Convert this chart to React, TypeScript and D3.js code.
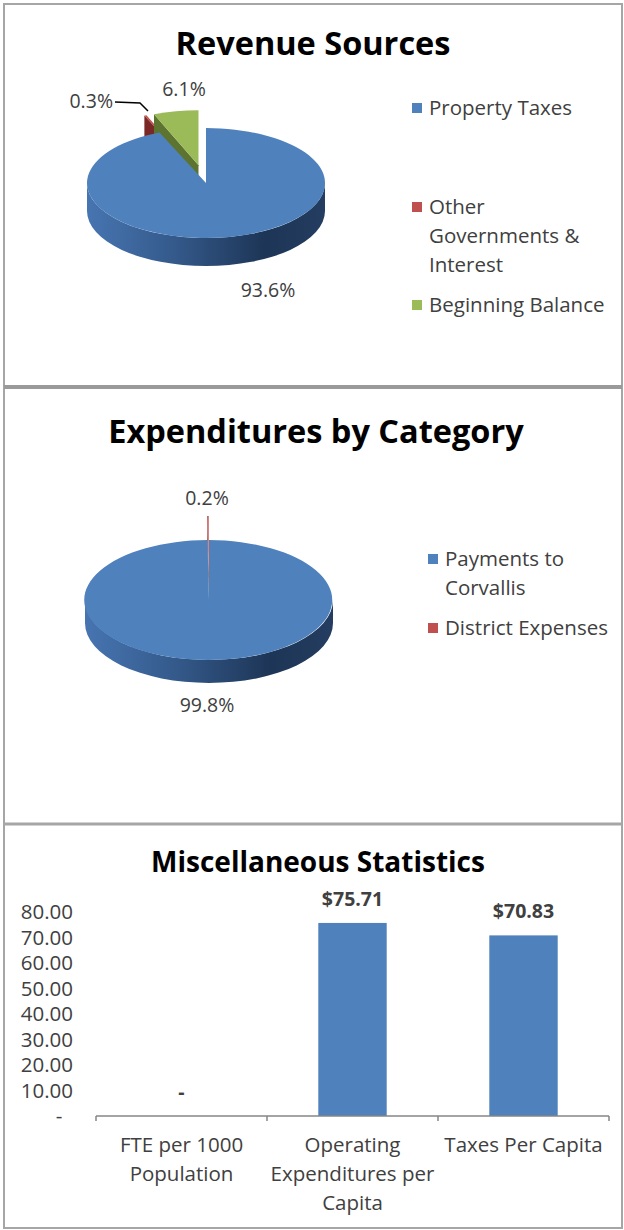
import React from "react";
import * as d3 from "d3";

// ---------- data ----------
const revenueLabels = ["Property Taxes", "Other Governments & Interest", "Beginning Balance"];
const revenueLegendLines = [["Property Taxes"], ["Other", "Governments &", "Interest"], ["Beginning Balance"]];
const revenueValues = [93.6, 0.3, 6.1];
const revenuePctLabels = ["93.6%", "0.3%", "6.1%"];
const revenueExplode = [0, 0.33, 0.33];

const expenditureLabels = ["Payments to Corvallis", "District Expenses"];
const expenditureLegendLines = [["Payments to", "Corvallis"], ["District Expenses"]];
const expenditureValues = [99.8, 0.2];
const expenditurePctLabels = ["99.8%", "0.2%"];
const expenditureExplode = [0, 0.4];

const statCategories = ["FTE per 1000 Population", "Operating Expenditures per Capita", "Taxes Per Capita"];
const statCategoryLines = [["FTE per 1000", "Population"], ["Operating", "Expenditures per", "Capita"], ["Taxes Per Capita"]];
const statValues = [0, 75.71, 70.83];
const statValueLabels = ["-", "$75.71", "$70.83"];
const yTickValues = [0, 10, 20, 30, 40, 50, 60, 70, 80];
const yTickLabels = ["-", "10.00", "20.00", "30.00", "40.00", "50.00", "60.00", "70.00", "80.00"];

const sliceColors = ["#4F81BD", "#C0504D", "#9BBB59"];
const cutColors = ["#2c4d75", "#7a2826", "#5d7431"];

const FONT = "'Open Sans', Lato, sans-serif";
const TEXT = "#404040";
const BODY = 20.5;

type PieProps = {
  id: string;
  cx: number;
  cy: number;
  rx: number;
  ry: number;
  depth: number;
  values: number[];
  explode: number[];
};

function Pie3D({ id, cx, cy, rx, ry, depth, values, explode }: PieProps) {
  const arcs = d3.pie<number>().sort(null).value((d) => d)(values);
  const order = arcs.map((a, i) => i).sort((a, b) => (explode[b] > 0 ? 1 : 0) - (explode[a] > 0 ? 1 : 0));
  const parts: React.ReactNode[] = [];
  order.forEach((i) => {
    const a = arcs[i];
    const s = a.startAngle;
    const e = a.endAngle;
    const mid = (s + e) / 2;
    const ox = Math.sin(mid) * explode[i] * rx;
    const oy = -Math.cos(mid) * explode[i] * ry;
    const p = (ang: number, dz = 0) => [cx + ox + rx * Math.sin(ang), cy + oy - ry * Math.cos(ang) + dz];
    const apex = [cx + ox, cy + oy];
    const f = (q: number[]) => `${q[0].toFixed(2)},${q[1].toFixed(2)}`;
    if (Math.sin(s) < -1e-6 && e - s < 2 * Math.PI - 1e-6) {
      const d = `M${f(apex)}L${f(p(s))}L${f(p(s, depth))}L${apex[0]},${apex[1] + depth}Z`;
      parts.push(<path key={`cs${i}`} d={d} fill={cutColors[i]} />);
    }
    if (Math.sin(e) > 1e-6 && e - s < 2 * Math.PI - 1e-6) {
      const d = `M${f(apex)}L${f(p(e))}L${f(p(e, depth))}L${apex[0]},${apex[1] + depth}Z`;
      parts.push(<path key={`ce${i}`} d={d} fill={cutColors[i]} />);
    }
    const s2 = Math.max(s, Math.PI / 2);
    const e2 = Math.min(e, (3 * Math.PI) / 2);
    if (s2 < e2) {
      const d = `M${f(p(s2))}A${rx},${ry} 0 0 1 ${f(p(e2))}L${f(p(e2, depth))}A${rx},${ry} 0 0 0 ${f(p(s2, depth))}Z`;
      parts.push(<path key={`sd${i}`} d={d} fill={i === 0 ? `url(#${id}-side)` : cutColors[i]} />);
    }
    const large = e - s > Math.PI ? 1 : 0;
    const dTop = `M${f(apex)}L${f(p(s))}A${rx},${ry} 0 ${large} 1 ${f(p(e))}Z`;
    parts.push(<path key={`tp${i}`} d={dTop} fill={sliceColors[i]} />);
  });
  return (
    <g>
      <defs>
        <linearGradient id={`${id}-side`} gradientUnits="userSpaceOnUse" x1={cx - rx} y1={0} x2={cx + rx} y2={0}>
          <stop offset="0" stopColor="#4775b1" />
          <stop offset="0.35" stopColor="#355b8d" />
          <stop offset="0.75" stopColor="#1d3556" />
          <stop offset="1" stopColor="#243d60" />
        </linearGradient>
      </defs>
      {parts}
    </g>
  );
}

function Legend({ x, ys, lines, colors, lineH, size }: { x: number; ys: number[]; lines: string[][]; colors: string[]; lineH: number; size: number }) {
  return (
    <g>
      {lines.map((ls, i) => (
        <g key={i}>
          <rect x={x} y={ys[i] - 5} width={10} height={10} fill={colors[i]} />
          {ls.map((t, j) => (
            <text key={j} x={x + 17} y={ys[i] + j * lineH} dy="0.35em" fontSize={size} fill={TEXT}>
              {t}
            </text>
          ))}
        </g>
      ))}
    </g>
  );
}

export default function App() {
  const x = d3.scaleBand<string>().domain(statCategories).range([96, 609]).padding(0);
  const y = d3.scaleLinear().domain([0, 80]).range([1116, 912]);
  const barW = x.bandwidth() * 0.4;

  return (
    <svg width={624} height={1230} style={{ position: "absolute", left: 0, top: 0 }} fontFamily={FONT}>
      <rect x={0} y={0} width={624} height={1230} fill="#fff" />
      <rect x={4} y={4} width={618} height={1224} fill="none" stroke="#a6a6a6" strokeWidth={2} />
      <line x1={4} x2={622} y1={387} y2={387} stroke="#9a9a9a" strokeWidth={4} />
      <line x1={4} x2={622} y1={824} y2={824} stroke="#a6a6a6" strokeWidth={3} />

      {/* Panel 1 */}
      <text x={313} y={55} textAnchor="middle" fontSize={32.5} fontWeight="bold" fill="#000">Revenue Sources</text>
      <Pie3D id="rev" cx={206} cy={183} rx={119} ry={55} depth={28} values={revenueValues} explode={revenueExplode} />
      <text x={268} y={290} dy="0.35em" textAnchor="middle" fontSize={19.5} fill={TEXT}>{revenuePctLabels[0]}</text>
      <text x={113} y={101} dy="0.35em" textAnchor="end" fontSize={19.5} fill={TEXT}>{revenuePctLabels[1]}</text>
      <polyline points="115,102 140,103 148,111" fill="none" stroke="#000" strokeWidth={1.5} />
      <text x={184} y={89} dy="0.35em" textAnchor="middle" fontSize={19.5} fill={TEXT}>{revenuePctLabels[2]}</text>
      <Legend x={412} ys={[108, 207, 305]} lines={revenueLegendLines} colors={sliceColors} lineH={29} size={BODY} />

      {/* Panel 2 */}
      <text x={316} y={443} textAnchor="middle" fontSize={32.5} fontWeight="bold" fill="#000">Expenditures by Category</text>
      <Pie3D id="exp" cx={209} cy={600} rx={124} ry={60} depth={23} values={expenditureValues} explode={expenditureExplode} />
      <text x={207} y={498} dy="0.35em" textAnchor="middle" fontSize={19.5} fill={TEXT}>{expenditurePctLabels[1]}</text>
      <text x={207} y={705} dy="0.35em" textAnchor="middle" fontSize={19.5} fill={TEXT}>{expenditurePctLabels[0]}</text>
      <Legend x={428} ys={[559, 628]} lines={expenditureLegendLines} colors={sliceColors} lineH={29} size={BODY} />

      {/* Panel 3 */}
      <text x={318} y={872} textAnchor="middle" fontSize={28} fontWeight="bold" fill="#000">Miscellaneous Statistics</text>
      {yTickValues.map((v, i) => (
        <text key={v} x={i === 0 ? 59 : 73} y={y(v)} dy="0.35em" textAnchor={i === 0 ? "middle" : "end"} fontSize={BODY} fill={TEXT}>
          {yTickLabels[i]}
        </text>
      ))}
      {statCategories.map((c, i) => (
        <rect key={c} x={(x(c) as number) + (x.bandwidth() - barW) / 2} y={y(statValues[i])} width={barW} height={y(0) - y(statValues[i])} fill={sliceColors[0]} />
      ))}
      <line x1={96} x2={609} y1={y(0)} y2={y(0)} stroke="#868686" strokeWidth={1.5} />
      {[...statCategories.map((c) => x(c) as number), 609].map((t, i) => (
        <line key={i} x1={t} x2={t} y1={y(0)} y2={y(0) + 5} stroke="#868686" strokeWidth={1.5} />
      ))}
      {statCategories.map((c, i) => (
        <text key={c} x={(x(c) as number) + x.bandwidth() / 2} y={y(statValues[i]) - 17} textAnchor="middle" fontSize={19.5} fontWeight="bold" fill={TEXT}>
          {statValueLabels[i]}
        </text>
      ))}
      {statCategories.map((c, i) =>
        statCategoryLines[i].map((t, j) => (
          <text key={c + j} x={(x(c) as number) + x.bandwidth() / 2} y={1145 + j * 29} dy="0.35em" textAnchor="middle" fontSize={BODY} fill={TEXT}>
            {t}
          </text>
        ))
      )}
    </svg>
  );
}
